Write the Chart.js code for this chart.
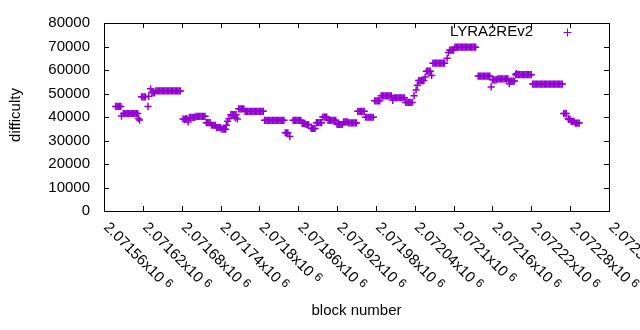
<!DOCTYPE html>
<html>
<head>
<meta charset="utf-8">
<script src="https://cdn.jsdelivr.net/npm/chart.js@4.4.1/dist/chart.umd.min.js"></script>
<style>
  body { margin: 0; background: #fff; }
</style>
</head>
<body>
<canvas id="diffChart" width="640" height="330"></canvas>
<script>
const seriesName = "LYRA2REv2";

const blocks = [
  2071578, 2071580, 2071582, 2071584, 2071586, 2071587,
  2071590, 2071592, 2071594, 2071596, 2071598, 2071600, 2071602, 2071604, 2071606, 2071608, 2071610, 2071612,
  2071613, 2071615, 2071618, 2071620, 2071622, 2071624, 2071628, 2071629,
  2071632, 2071634, 2071636, 2071638,
  2071640, 2071642, 2071644, 2071646, 2071648, 2071650, 2071652, 2071654, 2071656, 2071658,
  2071660, 2071662, 2071664, 2071666, 2071668, 2071670, 2071672, 2071674, 2071676, 2071678,
  2071682, 2071684, 2071686, 2071688, 2071690,
  2071692, 2071694, 2071696, 2071698, 2071700,
  2071702, 2071704, 2071706, 2071708, 2071710, 2071712, 2071714, 2071716,
  2071718, 2071720, 2071722, 2071724, 2071726, 2071728, 2071730, 2071732,
  2071734, 2071736, 2071738, 2071740, 2071742, 2071744, 2071746, 2071748,
  2071749, 2071751, 2071753,
  2071756, 2071758, 2071760, 2071762, 2071764, 2071763, 2071766,
  2071768, 2071770, 2071772, 2071774, 2071776,
  2071778, 2071780, 2071782, 2071784, 2071786, 2071788, 2071790, 2071792, 2071794, 2071796, 2071798, 2071800, 2071802, 2071804, 2071806,
  2071808, 2071810, 2071812, 2071814, 2071816, 2071818, 2071820, 2071822, 2071824, 2071826, 2071828, 2071830, 2071832, 2071834, 2071836, 2071838,
  2071840, 2071842, 2071844, 2071847,
  2071852, 2071854, 2071856, 2071858, 2071860, 2071862, 2071864,
  2071866, 2071868, 2071870, 2071872, 2071874, 2071876,
  2071880, 2071882, 2071884, 2071886, 2071888, 2071890, 2071892, 2071894, 2071896,
  2071898, 2071900, 2071902, 2071904, 2071906, 2071908, 2071910, 2071912, 2071914, 2071916, 2071918,
  2071920, 2071922, 2071924, 2071926, 2071928, 2071930, 2071932, 2071934, 2071936,
  2071938, 2071940, 2071942, 2071944, 2071946, 2071948, 2071950, 2071952, 2071954, 2071956, 2071958, 2071960, 2071962,
  2071964, 2071966, 2071968, 2071970, 2071972, 2071974, 2071976, 2071978, 2071980, 2071982, 2071984, 2071986,
  2071988, 2071990, 2071992, 2071994, 2071996, 2071998, 2072000, 2072002, 2072004, 2072006,
  2072008, 2072010, 2072012, 2072014, 2072016, 2072018, 2072020, 2072022, 2072024,
  2072026, 2072028, 2072030, 2072032, 2072034, 2072036, 2072039, 2072042, 2072044,
  2072046, 2072048, 2072050, 2072052, 2072054, 2072056, 2072058, 2072060, 2072062, 2072064, 2072066,
  2072068, 2072070, 2072072, 2072074, 2072076, 2072078, 2072080, 2072082, 2072084, 2072086,
  2072090, 2072092, 2072094, 2072096, 2072098, 2072100,
  2072102, 2072104, 2072106, 2072108, 2072110, 2072112, 2072114, 2072116, 2072118, 2072120, 2072122, 2072124, 2072126, 2072128, 2072130, 2072132, 2072134,
  2072138, 2072140, 2072142, 2072144, 2072146, 2072148, 2072150, 2072152, 2072154, 2072156, 2072158,
  2072160, 2072162, 2072164, 2072166, 2072168, 2072170, 2072172, 2072174, 2072176, 2072178, 2072180, 2072182, 2072184,
  2072186, 2072188, 2072190, 2072192, 2072194,
  2072196, 2072198, 2072200, 2072202, 2072204, 2072206, 2072208, 2072210, 2072212, 2072214, 2072216, 2072218, 2072220, 2072197,
  2072222, 2072224, 2072226, 2072228, 2072230, 2072232, 2072234, 2072236, 2072238, 2072240, 2072242, 2072244,
  2072246, 2072248, 2072250, 2072252, 2072254, 2072256, 2072258, 2072260, 2072262, 2072264, 2072266, 2072268,
  2072270, 2072272, 2072274, 2072277, 2072278, 2072280,
  2072282, 2072284, 2072286, 2072288, 2072290, 2072292, 2072294
];

const difficulty = [
  44500, 44500, 44500, 44500, 44500, 40400,
  41500, 41500, 41500, 41500, 41500, 41500, 41500, 41500, 41500, 41500, 41500, 41500,
  39400, 38700, 48600, 48600, 48600, 48600, 44500, 48800,
  52000, 50500, 50300, 50300,
  51100, 51100, 51100, 51100, 51100, 51100, 51100, 51100, 51100, 51100,
  51100, 51100, 51100, 51100, 51100, 51100, 51100, 51100, 51100, 51100,
  39200, 38900, 39300, 39300, 37900,
  39800, 39800, 39800, 39800, 39800,
  40300, 40300, 40300, 40300, 40300, 40300, 40300, 40300,
  37600, 37600, 37600, 37600, 36500, 36500, 36500, 36500,
  35500, 35500, 35500, 35500, 34800, 34800, 34800, 34800,
  36500, 38200, 39300,
  41000, 41000, 41000, 41000, 41000, 39600, 39200,
  43500, 43500, 43500, 43500, 43500,
  42400, 42400, 42400, 42400, 42400, 42400, 42400, 42400, 42400, 42400, 42400, 42400, 42400, 42400, 42400,
  38600, 38600, 38600, 38600, 38600, 38600, 38600, 38600, 38600, 38600, 38600, 38600, 38600, 38600, 38600, 38600,
  33300, 33300, 33300, 31700,
  38600, 38600, 38600, 38600, 38600, 38600, 38600,
  37300, 37300, 37300, 36800, 36800, 36800,
  35100, 35100, 35100, 35100, 37600, 37600, 37600, 37600, 37600,
  40000, 40000, 40000, 40000, 38600, 38600, 38600, 38600, 38600, 38600, 38600,
  36800, 36800, 36800, 36800, 36800, 37900, 37900, 37900, 37900,
  37500, 37500, 37500, 37500, 37500, 37500, 37500, 42400, 42400, 42400, 42400, 42400, 42400,
  39900, 39900, 39900, 39900, 39900, 39900, 39900, 46900, 46900, 46900, 46900, 46900,
  49000, 49000, 49000, 49000, 49000, 49000, 49000, 49000, 49000, 47100,
  48200, 48200, 48200, 48200, 48200, 48200, 48200, 48200, 48200,
  46200, 46200, 46200, 46200, 46200, 46200, 49000, 51500, 53500,
  55500, 55500, 55500, 55500, 55500, 57000, 59500, 59500, 59500, 59500, 57700,
  62900, 62900, 62900, 62900, 62900, 62900, 62900, 62900, 62900, 62900,
  65000, 67400, 68500, 68500, 68500, 68500,
  69700, 69700, 69700, 69700, 69700, 69700, 69700, 69700, 69700, 69700, 69700, 69700, 69700, 69700, 69700, 69700, 69700,
  57400, 57400, 57400, 57400, 57400, 57400, 57400, 57400, 57400, 57400, 52800,
  55800, 55800, 55800, 55800, 56200, 56200, 56200, 56200, 56200, 56200, 56200, 56200, 56200,
  54200, 55300, 55300, 55300, 55300,
  58000, 58000, 58000, 58000, 58000, 58000, 58000, 58000, 58000, 58000, 58000, 58000, 58000, 58500,
  54000, 54000, 54000, 54000, 54000, 54000, 54000, 54000, 54000, 54000, 54000, 54000,
  54000, 54000, 54000, 54000, 54000, 54000, 54000, 54000, 54000, 54000, 54000, 54000,
  41500, 41500, 41500, 39300, 39000, 39000,
  38100, 38100, 38100, 37400, 37400, 37400, 37400
];

const xMin = 2071560;
const xMax = 2072340;
const xStep = 60;
const yMin = 0;
const yMax = 80000;
const yStep = 10000;

const purple = "#9400d3";
const fontFamily = "'Liberation Sans', Arial, sans-serif";

// gnuplot style frame: border, inward ticks on all four sides, rotated x labels, titles, legend
const gnuplotFrame = {
    id: "gnuplotFrame",
    afterDraw(chart) {
        const { ctx, chartArea: a } = chart;
        const xs = chart.scales.x;
        const ys = chart.scales.y;
        const tick = 5;
        ctx.save();
        ctx.strokeStyle = "#000";
        ctx.lineWidth = 1;
        ctx.beginPath();
        ys.ticks.forEach((t) => {
            const py = Math.round(ys.getPixelForValue(t.value)) + 0.5;
            ctx.moveTo(a.left, py);
            ctx.lineTo(a.left + tick, py);
            ctx.moveTo(a.right, py);
            ctx.lineTo(a.right - tick, py);
        });
        xs.ticks.forEach((t) => {
            const px = Math.round(xs.getPixelForValue(t.value)) + 0.5;
            ctx.moveTo(px, a.bottom);
            ctx.lineTo(px, a.bottom - tick);
            ctx.moveTo(px, a.top);
            ctx.lineTo(px, a.top + tick);
        });
        ctx.stroke();
        ctx.strokeRect(Math.round(a.left) + 0.5, Math.round(a.top) + 0.5,
            Math.round(a.right - a.left), Math.round(a.bottom - a.top));

        // rotated x tick labels, e.g. 2.07156x10^6
        ctx.fillStyle = "#000";
        ctx.textBaseline = "middle";
        ctx.textAlign = "left";
        xs.ticks.forEach((t) => {
            const px = xs.getPixelForValue(t.value);
            const mant = String(+(t.value / 1e6).toFixed(5)) + "x10";
            ctx.save();
            ctx.translate(px + 2, a.bottom + 14);
            ctx.rotate(Math.PI / 4);
            ctx.font = "15px " + fontFamily;
            ctx.fillText(mant, 0, 0);
            const w = ctx.measureText(mant).width;
            ctx.font = "12px " + fontFamily;
            ctx.fillText("6", w + 4, -3);
            ctx.restore();
        });

        // axis titles
        ctx.font = "15px " + fontFamily;
        ctx.textAlign = "center";
        ctx.textBaseline = "alphabetic";
        ctx.fillText("block number", (a.left + a.right) / 2, 315);
        ctx.save();
        ctx.translate(16, (a.top + a.bottom) / 2 - 2);
        ctx.rotate(-Math.PI / 2);
        ctx.textBaseline = "middle";
        ctx.fillText("difficulty", 0, 0);
        ctx.restore();

        // key
        ctx.textAlign = "right";
        ctx.textBaseline = "middle";
        ctx.fillText(chart.data.datasets[0].label, 533, 32);
        ctx.strokeStyle = purple;
        ctx.beginPath();
        ctx.moveTo(563.5, 32.5);
        ctx.lineTo(571.5, 32.5);
        ctx.moveTo(567.5, 28.5);
        ctx.lineTo(567.5, 36.5);
        ctx.stroke();
        ctx.restore();
    }
};

const ctx = document.getElementById("diffChart");

new Chart(ctx, {
    type: "scatter",
    data: {
        datasets: [
        {
            label: seriesName,
            data: blocks.map((b, i) => ({ x: b, y: difficulty[i] })),
            pointStyle: "cross",
            pointRadius: 3.6,
            pointHoverRadius: 3.6,
            borderColor: purple,
            backgroundColor: purple,
            borderWidth: 1.5,
            showLine: false,
        },
        ],
    },
    plugins: [gnuplotFrame],
    options: {
        responsive: false,
        animation: false,
        layout: { padding: { top: 19, right: 31, left: 0, bottom: 0 } },
        plugins: {
            legend: { display: false },
            tooltip: { enabled: false },
        },
        scales: {
            x: {
                type: "linear",
                min: xMin,
                max: xMax,
                grid: { display: false, drawTicks: false },
                border: { display: false },
                ticks: { display: false, stepSize: xStep },
                afterFit: (scale) => { scale.height = 119; },
            },
            y: {
                min: yMin,
                max: yMax,
                grid: { display: false, drawTicks: false },
                border: { display: false },
                ticks: {
                    stepSize: yStep,
                    padding: 14,
                    color: "#000",
                    font: { family: fontFamily, size: 15 },
                    callback: (v) => String(v),
                },
                afterFit: (scale) => { scale.width = 104; },
            },
        },
    },
});
</script>
</body>
</html>
